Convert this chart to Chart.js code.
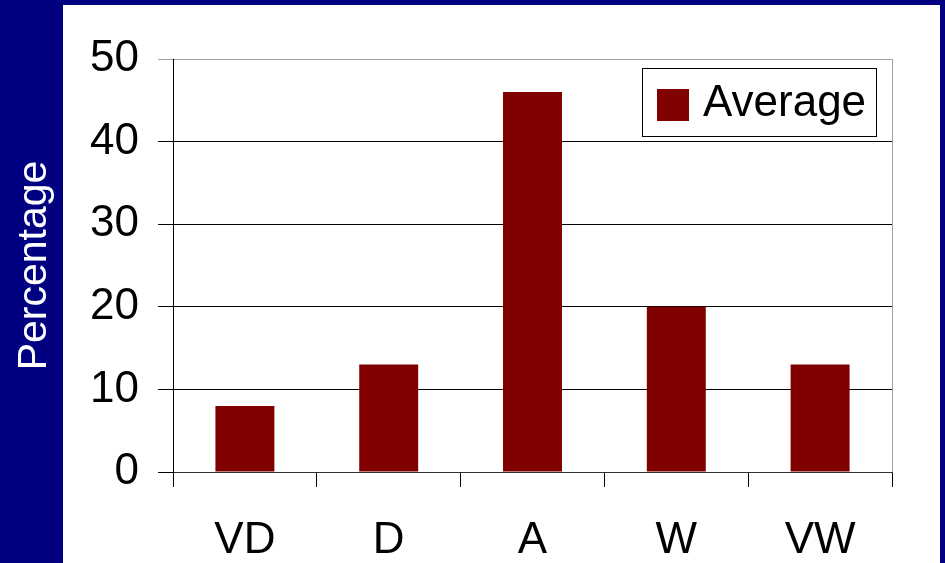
<!DOCTYPE html>
<html><head><meta charset="utf-8">
<script src="https://cdn.jsdelivr.net/npm/chart.js@4/dist/chart.umd.min.js"></script>
<style>html,body{margin:0;padding:0;background:#000080;overflow:hidden}#wrap{width:945px;height:563px;position:relative}</style>
</head><body><div id="wrap"><canvas id="c" width="945" height="563"></canvas></div>
<script>
const categories = ['VD', 'D', 'A', 'W', 'VW'];
const averageValues = [8, 13, 46, 20, 13];
const seriesLabel = 'Average';
const axisTitle = 'Percentage';
const yMin = 0, yMax = 50, yStep = 10;

const NAVY = '#000080';
const BAR = '#800000';
const FONT = "'Liberation Sans', Arial, sans-serif";

const backgroundPlugin = {
  id: 'panelBg',
  beforeDraw(chart) {
    const ctx = chart.ctx;
    ctx.save();
    ctx.fillStyle = NAVY;
    ctx.fillRect(0, 0, chart.width, chart.height);
    ctx.fillStyle = '#ffffff';
    ctx.fillRect(63, 5, 877, chart.height - 5);
    ctx.restore();
  }
};

const boxLegendPlugin = {
  id: 'boxLegend',
  afterDraw(chart) {
    const ctx = chart.ctx;
    const area = chart.chartArea;
    const ds = chart.data.datasets[0];
    const w = 234, h = 68;
    const x = area.right - 16 - w;
    const y = area.top + 9;
    ctx.save();
    ctx.fillStyle = '#ffffff';
    ctx.fillRect(x, y, w, h);
    ctx.strokeStyle = '#000000';
    ctx.lineWidth = 1;
    ctx.strokeRect(x + 0.5, y + 0.5, w, h);
    ctx.fillStyle = ds.backgroundColor;
    ctx.fillRect(x + 15, y + 21, 32, 32);
    ctx.fillStyle = '#000000';
    ctx.font = '44px ' + FONT;
    ctx.textBaseline = 'middle';
    ctx.textAlign = 'left';
    ctx.fillText(ds.label, x + 61, y + h / 2 + 2);
    ctx.restore();
  }
};

new Chart(document.getElementById('c'), {
  type: 'bar',
  data: {
    labels: categories,
    datasets: [{
      label: seriesLabel,
      data: averageValues,
      backgroundColor: BAR,
      borderWidth: 0,
      categoryPercentage: 1,
      barPercentage: 0.41
    }]
  },
  options: {
    responsive: false,
    animation: false,
    devicePixelRatio: 1,
    layout: { padding: { top: 59, right: 53, left: 0, bottom: 0 } },
    plugins: { legend: { display: false }, tooltip: { enabled: false } },
    scales: {
      x: {
        afterFit(scale) { scale.height = 91; },
        grid: {
          offset: true,
          drawOnChartArea: true,
          tickLength: 15,
          tickColor: '#000000',
          color(ctx) {
            if (ctx.type === 'scale') return '#a0a0a0';
            if (ctx.index === 0) return '#000000';
            return 'rgba(0,0,0,0)';
          }
        },
        border: { display: true, color: '#303030', width: 1 },
        ticks: { color: '#000000', font: { family: FONT, size: 44 }, padding: 27, maxRotation: 0 }
      },
      y: {
        min: yMin, max: yMax,
        afterFit(scale) { scale.width = 173; },
        grid: {
          tickLength: 15,
          color(ctx) { return ctx.tick && ctx.tick.value === yMax ? '#a0a0a0' : '#000000'; },
          tickColor(ctx) { return ctx.tick && ctx.tick.value === yMax ? '#a0a0a0' : '#000000'; }
        },
        border: { display: true, color: '#000000', width: 1 },
        ticks: { stepSize: yStep, color: '#000000', font: { family: FONT, size: 44 }, padding: 19 },
        title: {
          display: true, text: axisTitle, color: '#ffffff',
          font: { family: FONT, size: 41 }, padding: { top: 10, bottom: 0 }
        }
      }
    }
  },
  plugins: [backgroundPlugin, boxLegendPlugin]
});
</script></body></html>
